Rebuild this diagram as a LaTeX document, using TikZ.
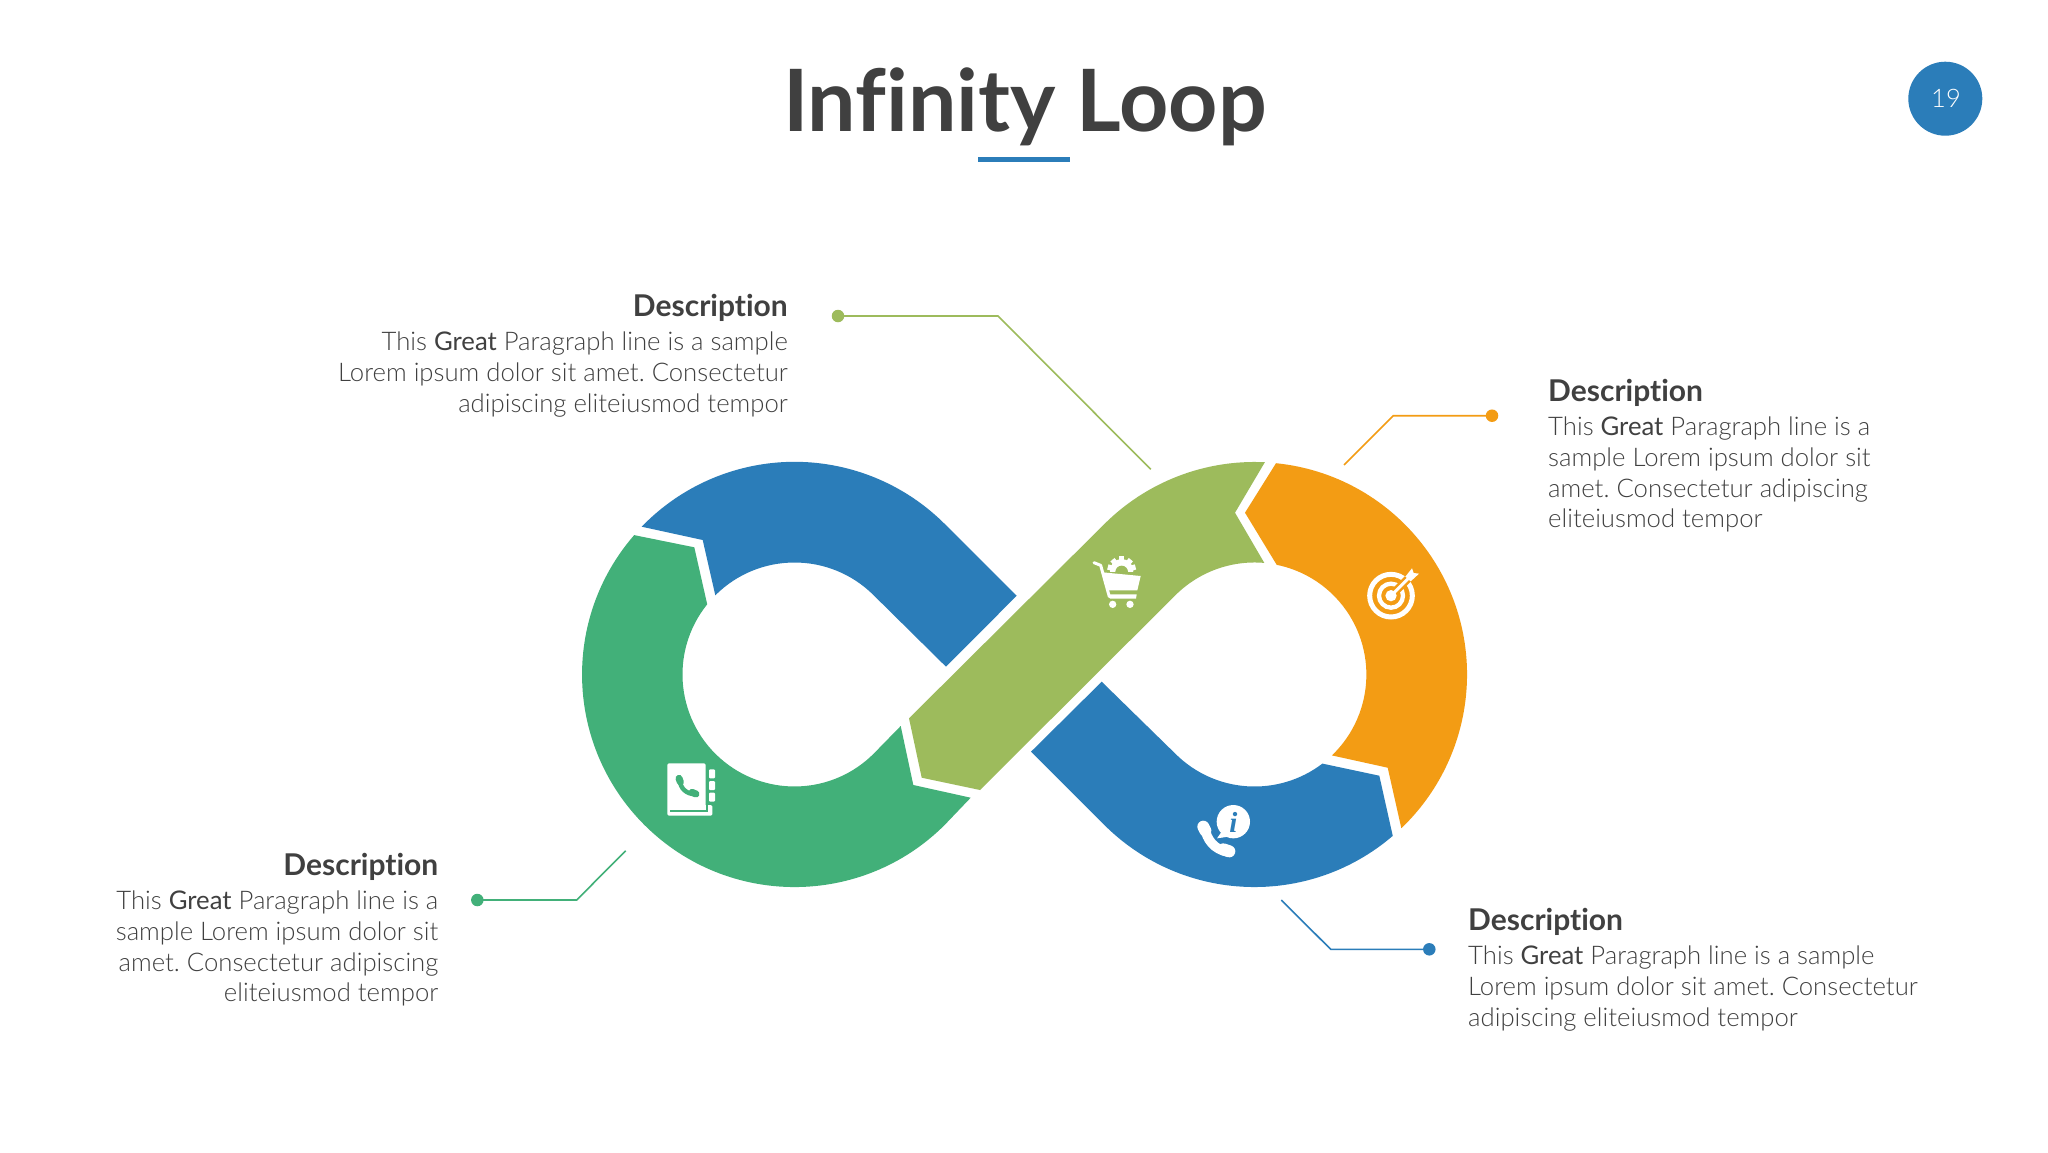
\documentclass[tikz,border=0pt]{standalone}
\usepackage{fontspec}
\setmainfont[Ligatures=CommonOff]{Lato}
\newfontfamily\latolight[Ligatures=CommonOff]{Lato Light}
\newfontfamily\iserif{Liberation Serif}
\definecolor{cblue}{HTML}{2B7DB9}
\definecolor{cgreen}{HTML}{42B079}
\definecolor{colive}{HTML}{9DBB5C}
\definecolor{corange}{HTML}{F39C14}
\definecolor{ctext}{HTML}{404040}
\tikzset{
  bodyline/.style={inner sep=0pt,text=ctext,font=\latolight\fontsize{25.7}{31}\selectfont\frenchspacing},
  headline/.style={inner sep=0pt,text=ctext,font=\bfseries\fontsize{30}{34}\selectfont},
  leaddot/.style={circle,inner sep=0pt,minimum size=12.5pt},
  leadline/.style={line width=1.6pt,line join=miter},
}
\newcommand{\grt}{{\normalfont\fontsize{25.7}{31}\selectfont Great}}
\begin{document}
\begin{tikzpicture}[x=1pt,y=1pt,yscale=-1]
\useasboundingbox (0,0) rectangle (2048,1152);
\fill[white] (0,0) rectangle (2048,1152);

% title
\node[anchor=base,inner sep=0pt,text=ctext,font=\bfseries\fontsize{86}{90}\selectfont] (title) at (1025,131) {Infinity Loop};
\fill[cblue] (978.3,157.3) rectangle (1070,161.7);
\node[circle,fill=cblue,minimum size=74pt,inner sep=0pt] (badge) at (1945.3,98.7) {};
\node[anchor=base,inner sep=0pt,text=white,font=\latolight\fontsize{25.5}{28}\selectfont] (pageno) at (1946,107.3) {19};

% loop segments
% upper-left blue
\fill[cblue] (641.7,526.7) arc[start angle=224,end angle=315,radius=212.5]
  -- (1016.7,595.7) -- (946,666.7) -- (873.7,595.3)
  arc[start angle=315,end angle=225,radius=112]
  -- (702.7,540) -- cycle;
% left green
\fill[cgreen] (634.1,535.1) -- (694.3,547.3) -- (707.2,604.3)
  arc[start angle=218.8,end angle=45,radius=112]
  -- (900.7,726) -- (913.3,785) -- (970.7,797.7) -- (944.8,824.8)
  arc[start angle=45,end angle=221,radius=212.5] -- cycle;
% olive band
\fill[colive] (909,718.3) -- (1104.2,524.2)
  arc[start angle=225,end angle=272.8,radius=212.5]
  -- (1235,512.7) -- (1264.3,562.9)
  arc[start angle=275,end angle=225,radius=112]
  -- (980,790) -- (921.7,777.7) -- cycle;
% orange
\fill[corange] (1276,463.2) arc[start angle=275.8,end angle=406.3,radius=212.5]
  -- (1387.7,767.7) -- (1331.9,755.4)
  arc[start angle=46.2,end angle=-78.5,radius=112]
  -- (1245,512.7) -- cycle;
% lower-right blue
\fill[cblue] (1031,751.7) -- (1104.2,824.8)
  arc[start angle=135,end angle=49.4,radius=212.5]
  -- (1379.3,775.7) -- (1322.4,763.6)
  arc[start angle=52.7,end angle=135,radius=112]
  -- (1101.7,681.7) -- cycle;

% book icon
\begin{scope}[shift={(650,750)},scale=1/3]
  \fill[white,rounded corners=1.5pt] (52,40) rectangle (167,197);
  \fill[white,rounded corners=1.5pt] (160,165) rectangle (187,197);
  \draw[cgreen,line width=1.7pt] (60,183) -- (172,183) -- (172,165);
  \fill[white,rounded corners=1pt] (177,58) rectangle (195,85);
  \fill[white,rounded corners=1pt] (177,93) rectangle (195,120);
  \fill[white,rounded corners=1pt] (177,128) rectangle (195,155);
  \draw[cgreen,line width=4.5pt,line cap=round] (90,90) .. controls (90,115) and (110,133) .. (136,132);
  \draw[cgreen,line width=7pt,line cap=round] (87,85) -- (91,96);
  \draw[cgreen,line width=7pt,line cap=round] (126,127) -- (138,132);
\end{scope}

% cart icon
\begin{scope}[shift={(1060,530)},scale=1/3]
  \begin{scope}
    \clip (140,60) rectangle (235,124);
    \fill[white] (185,122) circle[radius=35];
    \foreach \a in {195,230,270,310,345}
      \fill[white,rotate around={\a:(185,122)}] (212,114) rectangle (228,130);
    \fill[colive] (185,126) circle[radius=19];
  \end{scope}
  \draw[white,line width=3pt,line cap=round,line join=round] (102,98) -- (122,106) -- (148,200);
  \fill[white] (128,127) -- (242,138) -- (232,181) -- (142,181) -- cycle;
  \fill[white] (146,193) -- (230,193) -- (228,206) -- (150,206) -- cycle;
  \fill[white] (158,223) circle[radius=11];
  \fill[white] (210,223) circle[radius=11];
\end{scope}

% target icon
\begin{scope}[shift={(1350,550)},scale=1/3]
  \draw[white,line width=5pt] (123,137) circle[radius=64];
  \draw[white,line width=4.3pt] (123,137) circle[radius=36];
  \draw[corange,line width=8pt] (123,137) -- (185,75);
  \fill[white] (123,137) circle[radius=17];
  \draw[white,line width=3pt] (123,137) -- (180,80);
  \fill[white] (166,80) -- (186,55) -- (191,69) -- (207,71) -- (182,94) -- cycle;
\end{scope}

% phone and info icon
\begin{scope}[shift={(1180,790)},scale=1/3]
  \fill[white] (160,95) circle[radius=50];
  \fill[white] (125,125) -- (111,145) -- (145,140) -- cycle;
  \node[inner sep=0pt,text=cblue,font=\iserif\bfseries\itshape\fontsize{29}{30}\selectfont] (infoi) at (160,96) {i};
  \draw[white,line width=9.5pt,line cap=round] (74,112) .. controls (80,150) and (103,178) .. (143,186);
  \draw[white,line width=12pt,line cap=round] (70,110) -- (76,122);
  \draw[white,line width=12pt,line cap=round] (130,178) -- (148,184);
\end{scope}

% leaders
\node[leaddot,fill=colive] (dotA) at (838,316) {};
\coordinate (elbowA) at (998,316);
\coordinate (endA) at (1150.7,469.3);
\draw[colive,leadline] (dotA.center) -- (elbowA) -- (endA);

\node[leaddot,fill=corange] (dotB) at (1492,415.7) {};
\coordinate (elbowB) at (1393.3,415.7);
\coordinate (endB) at (1344,465);
\draw[corange,leadline] (dotB.center) -- (elbowB) -- (endB);

\node[leaddot,fill=cblue] (dotC) at (1429.3,949.3) {};
\coordinate (elbowC) at (1330.7,949.3);
\coordinate (endC) at (1281.3,900);
\draw[cblue,leadline] (dotC.center) -- (elbowC) -- (endC);

\node[leaddot,fill=cgreen] (dotD) at (477.3,900) {};
\coordinate (elbowD) at (576.7,900);
\coordinate (endD) at (625.7,850.7);
\draw[cgreen,leadline] (dotD.center) -- (elbowD) -- (endD);

% text block top left
\node[headline,anchor=base east] (hA) at (788,316) {Description};
\node[bodyline,anchor=base east] (a1) at (788,350.5) {This \grt{} Paragraph line is a sample};
\node[bodyline,anchor=base east] (a2) at (788,381.5) {Lorem ipsum dolor sit amet. Consectetur};
\node[bodyline,anchor=base east] (a3) at (788,412) {adipiscing eliteiusmod tempor};

% text block top right
\node[headline,anchor=base west] (hB) at (1548,401.7) {Description};
\node[bodyline,anchor=base west] (b1) at (1548,435) {This \grt{} Paragraph line is a};
\node[bodyline,anchor=base west] (b2) at (1548,466.3) {sample Lorem ipsum dolor sit};
\node[bodyline,anchor=base west] (b3) at (1548,497) {amet. Consectetur adipiscing};
\node[bodyline,anchor=base west] (b4) at (1548,527) {eliteiusmod tempor};

% text block bottom right
\node[headline,anchor=base west] (hC) at (1468,930) {Description};
\node[bodyline,anchor=base west] (c1) at (1468,964.3) {This \grt{} Paragraph line is a sample};
\node[bodyline,anchor=base west] (c2) at (1468,995.7) {Lorem ipsum dolor sit amet. Consectetur};
\node[bodyline,anchor=base west] (c3) at (1468,1026) {adipiscing eliteiusmod tempor};

% text block bottom left
\node[headline,anchor=base east] (hD) at (438.5,875.3) {Description};
\node[bodyline,anchor=base east] (d1) at (438.5,909.3) {This \grt{} Paragraph line is a};
\node[bodyline,anchor=base east] (d2) at (438.5,940.3) {sample Lorem ipsum dolor sit};
\node[bodyline,anchor=base east] (d3) at (438.5,971) {amet. Consectetur adipiscing};
\node[bodyline,anchor=base east] (d4) at (438.5,1001.7) {eliteiusmod tempor};
\end{tikzpicture}
\end{document}
